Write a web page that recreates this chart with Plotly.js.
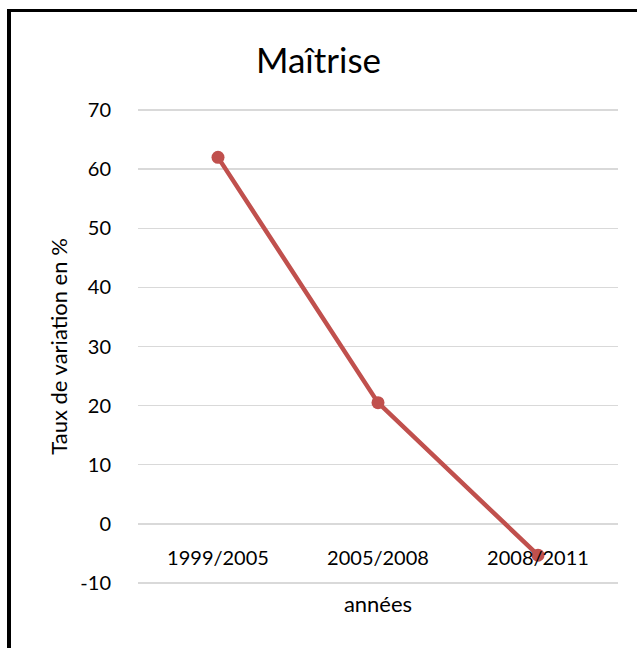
<!DOCTYPE html>
<html>
<head>
<meta charset="utf-8">
<script src="https://cdn.plot.ly/plotly-3.0.1.min.js"></script>
<style>
html,body{margin:0;padding:0;background:#fff;}
#wrap{position:relative;width:637px;height:648px;overflow:hidden;}
#chart{width:637px;height:648px;}
#frame{position:absolute;left:7px;top:9px;width:700px;height:700px;border-top:3px solid #000;border-left:4px solid #000;pointer-events:none;}
</style>
</head>
<body>
<div id="wrap"><div id="chart"></div><div id="frame"></div></div>
<script>
const categories = ["1999/2005", "2005/2008", "2008/2011"];
const values = [62, 20.5, -5.3];
const yTicks = [-10, 0, 10, 20, 30, 40, 50, 60, 70];
const yTickText = ["-10", "0", "10", "20", "30", "40", "50", "60", "70"];
const chartTitle = "Maîtrise";
const xTitle = "années";
const yTitle = "Taux de variation en %";

const font = "Lato, 'Liberation Sans', sans-serif";
const yMin = -10.35, yMax = 70.35;

Plotly.newPlot("chart", [{
  x: categories,
  y: values,
  type: "scatter",
  mode: "lines+markers",
  line: {color: "#c0504d", width: 4.5},
  marker: {color: "#c0504d", size: 13},
  hoverinfo: "none"
}], {
  width: 637, height: 648,
  margin: {l: 138, r: 19, t: 108, b: 63},
  paper_bgcolor: "#fff", plot_bgcolor: "#fff",
  showlegend: false,
  font: {family: font, color: "#000", size: 19},
  title: {text: chartTitle, font: {family: font, size: 35, color: "#000"}, x: 0.5, xanchor: "center", y: 0.907, yanchor: "middle"},
  xaxis: {
    type: "category",
    range: [-0.5, 2.5],
    anchor: "free",
    position: (0 - yMin) / (yMax - yMin),
    showgrid: false, zeroline: false, showline: false,
    ticks: "",
    ticklabelstandoff: 20,
    tickfont: {family: font, size: 20, color: "#000"},
    title: {text: xTitle, font: {family: font, size: 22, color: "#000"}, standoff: 28}
  },
  yaxis: {
    range: [yMin, yMax],
    tickvals: yTicks,
    ticktext: yTickText,
    showgrid: true, gridcolor: "#d9d9d9", gridwidth: 1.5,
    zeroline: false, showline: false, ticks: "",
    ticklabelstandoff: 26,
    tickfont: {family: font, size: 20, color: "#000"},
    title: {text: yTitle, font: {family: font, size: 22, color: "#000"}, standoff: 6}
  }
}, {staticPlot: true});
</script>
</body>
</html>
